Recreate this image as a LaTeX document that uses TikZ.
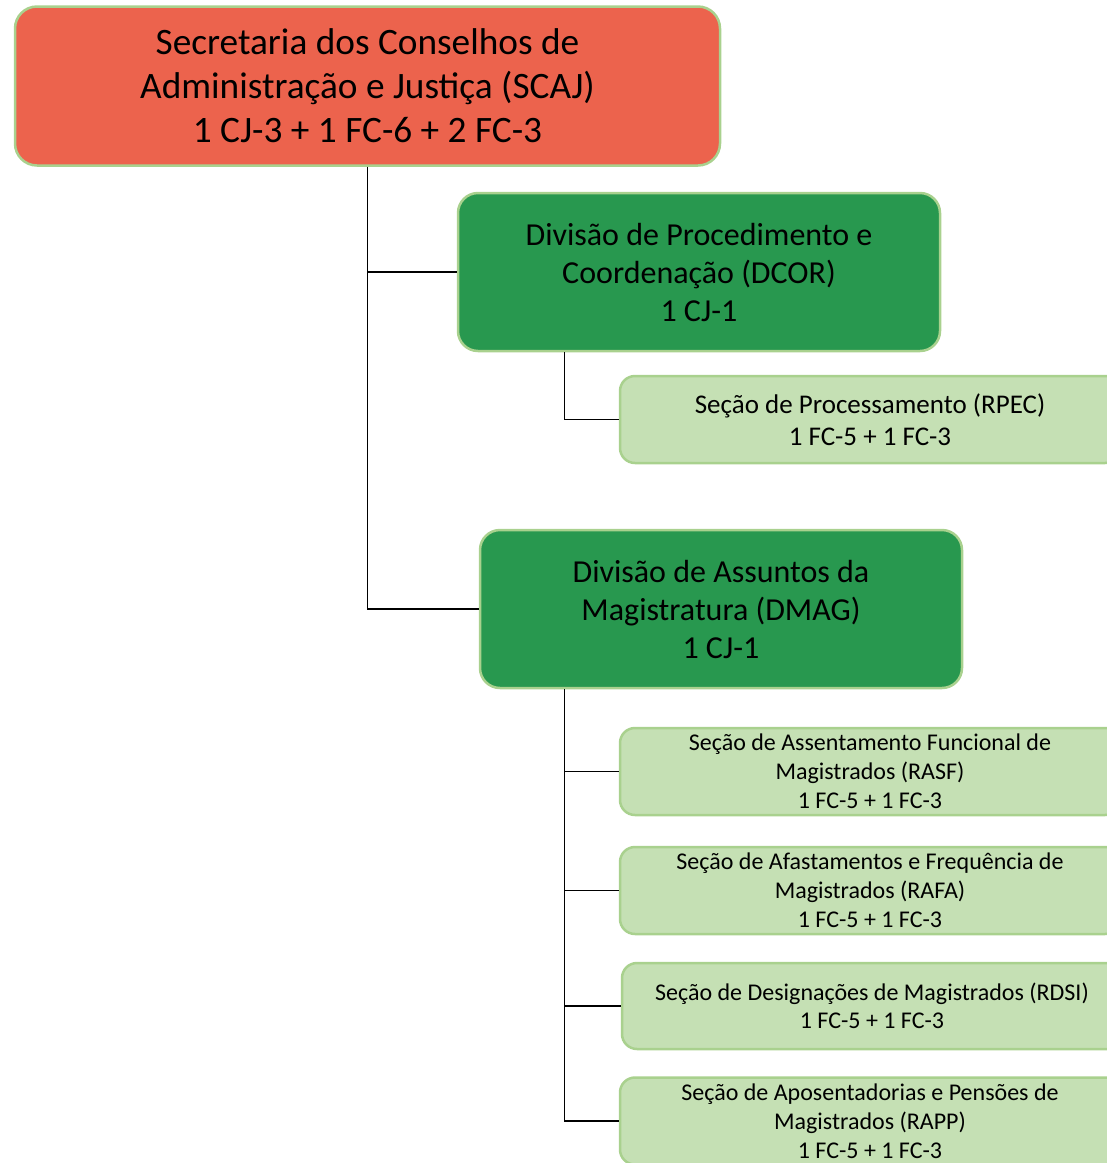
\documentclass[tikz,border=0pt]{standalone}
\usepackage{fontspec}
\setmainfont{Carlito}
\usetikzlibrary{calc}
\definecolor{boxred}{RGB}{236,99,77}
\definecolor{boxgreen}{RGB}{40,152,79}
\definecolor{boxlight}{RGB}{197,224,180}
\definecolor{boxedge}{RGB}{169,209,142}
\begin{document}
\begin{tikzpicture}[x=1pt,y=-1pt]
	\tikzset{unit/.style 2 args={draw=boxedge, line width=2.5pt, fill=#1, rounded corners=#2, align=center, inner sep=0pt}};
	\tikzset{link/.style={draw=black, line width=1.3pt}};
	\useasboundingbox (0,0) rectangle (1107,1163);
	\clip (0,0) rectangle (1107,1163);
	
	\node[unit={boxred}{22pt}, minimum width=705, minimum height=159, font=\fontsize{37.3}{44}\selectfont] (scaj) at (367.5,86) {Secretaria dos Conselhos de\\Administração e Justiça (SCAJ)\\1 CJ-3 + 1 FC-6 + 2 FC-3};
	
	\node[unit={boxgreen}{20pt}, minimum width=482, minimum height=158, font=\fontsize{32}{38}\selectfont] (dcor) at (699,272) {Divisão de Procedimento e\\Coordenação (DCOR)\\1 CJ-1};
	\node[unit={boxgreen}{20pt}, minimum width=482, minimum height=158, font=\fontsize{32}{38}\selectfont] (dmag) at (721,609) {Divisão de Assuntos da\\Magistratura (DMAG)\\1 CJ-1};
	
	\node[unit={boxlight}{15pt}, minimum width=500, minimum height=87, font=\fontsize{27}{32}\selectfont] (rpec) at (870,419.5) {Seção de Processamento (RPEC)\\1 FC-5 + 1 FC-3};
	\node[unit={boxlight}{15pt}, minimum width=500, minimum height=87, font=\fontsize{24}{29}\selectfont] (rasf) at (870,771.5) {Seção de Assentamento Funcional de\\Magistrados (RASF)\\1 FC-5 + 1 FC-3};
	\node[unit={boxlight}{15pt}, minimum width=500, minimum height=87, font=\fontsize{24}{29}\selectfont] (rafa) at (870,890.5) {Seção de Afastamentos e Frequência de\\Magistrados (RAFA)\\1 FC-5 + 1 FC-3};
	\node[unit={boxlight}{15pt}, minimum width=500, minimum height=86, font=\fontsize{24}{28}\selectfont] (rdsi) at (872,1006) {Seção de Designações de Magistrados (RDSI)\\1 FC-5 + 1 FC-3};
	\node[unit={boxlight}{15pt}, minimum width=500, minimum height=87, font=\fontsize{24}{29}\selectfont] (rapp) at (870,1121) {Seção de Aposentadorias e Pensões de\\Magistrados (RAPP)\\1 FC-5 + 1 FC-3};
	
	\coordinate (c1) at ([xshift=108]dcor.south west);
	\coordinate (c2) at ([xshift=86]dmag.south west);
	
	\draw[link] (scaj.south) |- (dcor.west);
	\draw[link] (scaj.south) |- (dmag.west);
	\draw[link] (c1) |- (rpec.west);
	\draw[link] (c2) |- (rasf.west);
	\draw[link] (c2) |- (rafa.west);
	\draw[link] (c2) |- (rdsi.west);
	\draw[link] (c2) |- (rapp.west);
\end{tikzpicture}
\end{document}
